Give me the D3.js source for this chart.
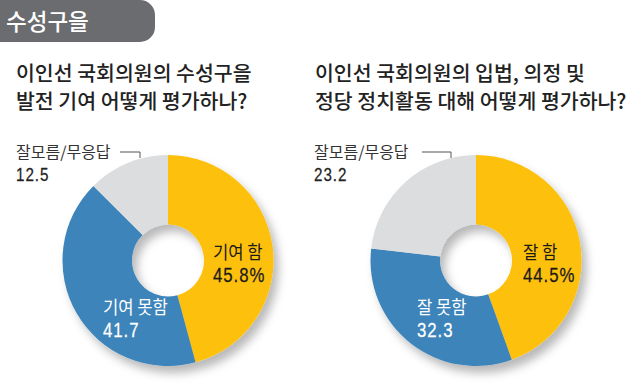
<!DOCTYPE html>
<html><head><meta charset="utf-8">
<script src="https://cdn.jsdelivr.net/npm/d3@7"></script>
<style>
html,body{margin:0;padding:0;background:#fff;}
text{font-family:"Noto Sans CJK KR","Noto Sans",sans-serif;}
text.num{font-family:"Liberation Sans",Arial,sans-serif;}
</style></head>
<body><svg id="c" width="640" height="391"></svg>
<script>
const headerText = "수성구을";
const titles1 = ["이인선 국회의원의 수성구을", "발전 기여 어떻게 평가하나?"];
const titles2 = ["이인선 국회의원의 입법, 의정 및", "정당 정치활동 대해 어떻게 평가하나?"];
const categories1 = ["기여 함", "기여 못함", "잘모름/무응답"];
const values1 = [45.8, 41.7, 12.5];
const valueLabels1 = ["45.8%", "41.7", "12.5"];
const categories2 = ["잘 함", "잘 못함", "잘모름/무응답"];
const values2 = [44.5, 32.3, 23.2];
const valueLabels2 = ["44.5%", "32.3", "23.2"];
const colors = ["#FDC010", "#3C84BA", "#DCDDDF"];

const svg = d3.select("#c");
const defs = svg.append("defs");
const f = defs.append("filter").attr("id","sh").attr("x","-30%").attr("y","-30%").attr("width","170%").attr("height","170%");
f.append("feDropShadow").attr("dx",5).attr("dy",7).attr("stdDeviation",5).attr("flood-color","#000").attr("flood-opacity",0.28);

// header tab
svg.append("path").attr("d","M0,0 H140 A15,15 0 0 1 155,15 V27 A15,15 0 0 1 140,42 H0 Z").attr("fill","#6B6C6F");
svg.append("text").attr("x",6).attr("y",30).attr("fill","#fff").attr("font-size",22.5).attr("font-weight",500).text(headerText);

function titles(lines,x){
  lines.forEach((t,i)=>svg.append("text").attr("x",x).attr("y",81+i*28).attr("fill","#222").attr("font-size",20.5).attr("font-weight",500).text(t));
}
titles(titles1,16);
titles(titles2,315);

const pie = d3.pie().sort(null).value(d=>d);
const arc = d3.arc().innerRadius(36).outerRadius(105.5);

function numText(x,y,fill,size,txt){
  svg.append("text").attr("class","num").attr("transform",`translate(${x},${y}) scale(0.8,1)`)
    .attr("fill",fill).attr("stroke",fill).attr("stroke-width",0.25).attr("font-size",size).attr("letter-spacing",1.2).text(txt);
}

function donut(cx,cy,values,cats,vlabels,opts){
  const g = svg.append("g").attr("transform",`translate(${cx},${cy})`);
  const gs = g.append("g").attr("filter","url(#sh)");
  gs.selectAll("path").data(pie(values)).join("path").attr("d",arc).attr("fill",(d,i)=>colors[i]);
  // inside labels
  const lab = [
    {x:opts.l0x, y:259, fill:"#1a1a1a", i:0},
    {x:opts.l1x, y:314, fill:"#fff", i:1}
  ];
  lab.forEach(o=>{
    svg.append("text").attr("transform",`translate(${o.x},${o.y}) scale(0.9,1)`).attr("fill",o.fill).attr("font-size",18.5).text(cats[o.i]);
    numText(o.x, o.y+23, o.fill, 21, vlabels[o.i]);
  });
  // outside label
  svg.append("text").attr("x",opts.ox).attr("y",158).attr("fill","#333").attr("font-size",16).text(cats[2]);
  numText(opts.ox, 181, "#222", 19, vlabels[2]);
  svg.append("path").attr("d",`M${opts.lx1},152 H${opts.lx2} V158`).attr("fill","none").attr("stroke","#555").attr("stroke-width",1);
}
donut(168,260.5,values1,categories1,valueLabels1,{l0x:213,l1x:103,ox:16,lx1:120,lx2:140});
donut(476,260.5,values2,categories2,valueLabels2,{l0x:523,l1x:417,ox:314,lx1:422,lx2:451});
</script></body></html>
